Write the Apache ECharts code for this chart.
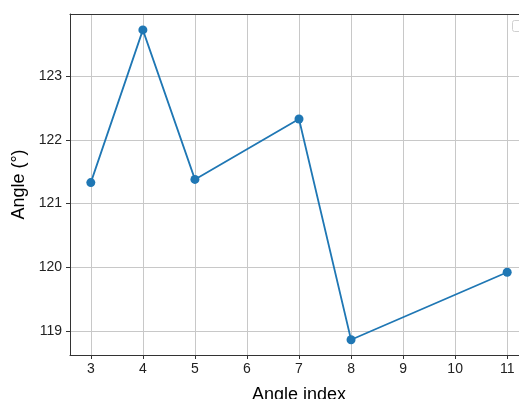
<!DOCTYPE html>
<html><head><meta charset="utf-8">
<script src="https://cdn.jsdelivr.net/npm/echarts@6/dist/echarts.min.js"></script>
<style>html,body{margin:0;padding:0;background:#fff}#c{width:519px;height:399px}</style>
</head><body><div id="c"></div>
<script>
const angleIndex = [3, 4, 5, 7, 8, 11];
const angleValues = [121.33, 123.73, 121.38, 122.33, 118.86, 119.92];
const xTicks = [3, 4, 5, 6, 7, 8, 9, 10, 11];
const yTicks = [119, 120, 121, 122, 123];

const chart = echarts.init(document.getElementById('c'), null, {renderer: 'canvas'});
const font = 'Liberation Sans, Arial, sans-serif';
const intFmt = function (v) { return Math.abs(v - Math.round(v)) < 1e-6 ? String(Math.round(v)) : ''; };
chart.setOption({
  animation: false,
  grid: {left: 70, top: 14, width: 458, height: 341, outerBoundsMode: 'none', containLabel: false, show: false},
  xAxis: [{
    type: 'value', min: 2.6, max: 11.4, interval: 1,
    name: 'Angle index', nameLocation: 'middle', nameGap: 31,
    nameTextStyle: {fontFamily: font, fontSize: 18, color: '#000'},
    axisLine: {show: true, onZero: false, lineStyle: {color: '#333', width: 1}},
    axisTick: {show: true, length: 4, lineStyle: {color: '#333'}, customValues: xTicks},
    axisLabel: {fontFamily: font, fontSize: 14, color: '#222', margin: 7, formatter: intFmt, customValues: xTicks},
    splitLine: {show: true, lineStyle: {color: '#c8c8c8', width: 1}}
  }, {
    type: 'value', position: 'top', min: 2.6, max: 11.4,
    axisLine: {show: true, onZero: false, lineStyle: {color: '#333', width: 1}},
    axisTick: {show: false}, axisLabel: {show: false}, splitLine: {show: false}
  }],
  yAxis: {
    type: 'value', min: 118.62, max: 123.98, interval: 1,
    name: 'Angle (°)', nameLocation: 'middle', nameGap: 40,
    nameTextStyle: {fontFamily: font, fontSize: 18, color: '#000'},
    axisLine: {show: true, onZero: false, lineStyle: {color: '#333', width: 1}},
    axisTick: {show: true, length: 4, lineStyle: {color: '#333'}, customValues: yTicks},
    axisLabel: {fontFamily: font, fontSize: 14, color: '#222', margin: 8, formatter: intFmt, customValues: yTicks},
    splitLine: {show: true, lineStyle: {color: '#c8c8c8', width: 1}}
  },
  series: [{
    type: 'line', xAxisIndex: 0,
    data: angleIndex.map((x, i) => [x, angleValues[i]]),
    symbol: 'circle', symbolSize: 9,
    lineStyle: {color: '#1f77b4', width: 1.8},
    itemStyle: {color: '#1f77b4'}
  }],
  graphic: [{
    type: 'rect', left: 512, top: 20, shape: {width: 20, height: 11, r: 2},
    style: {fill: '#fff', stroke: '#d0d0d0', lineWidth: 1}
  }]
});
</script></body></html>
